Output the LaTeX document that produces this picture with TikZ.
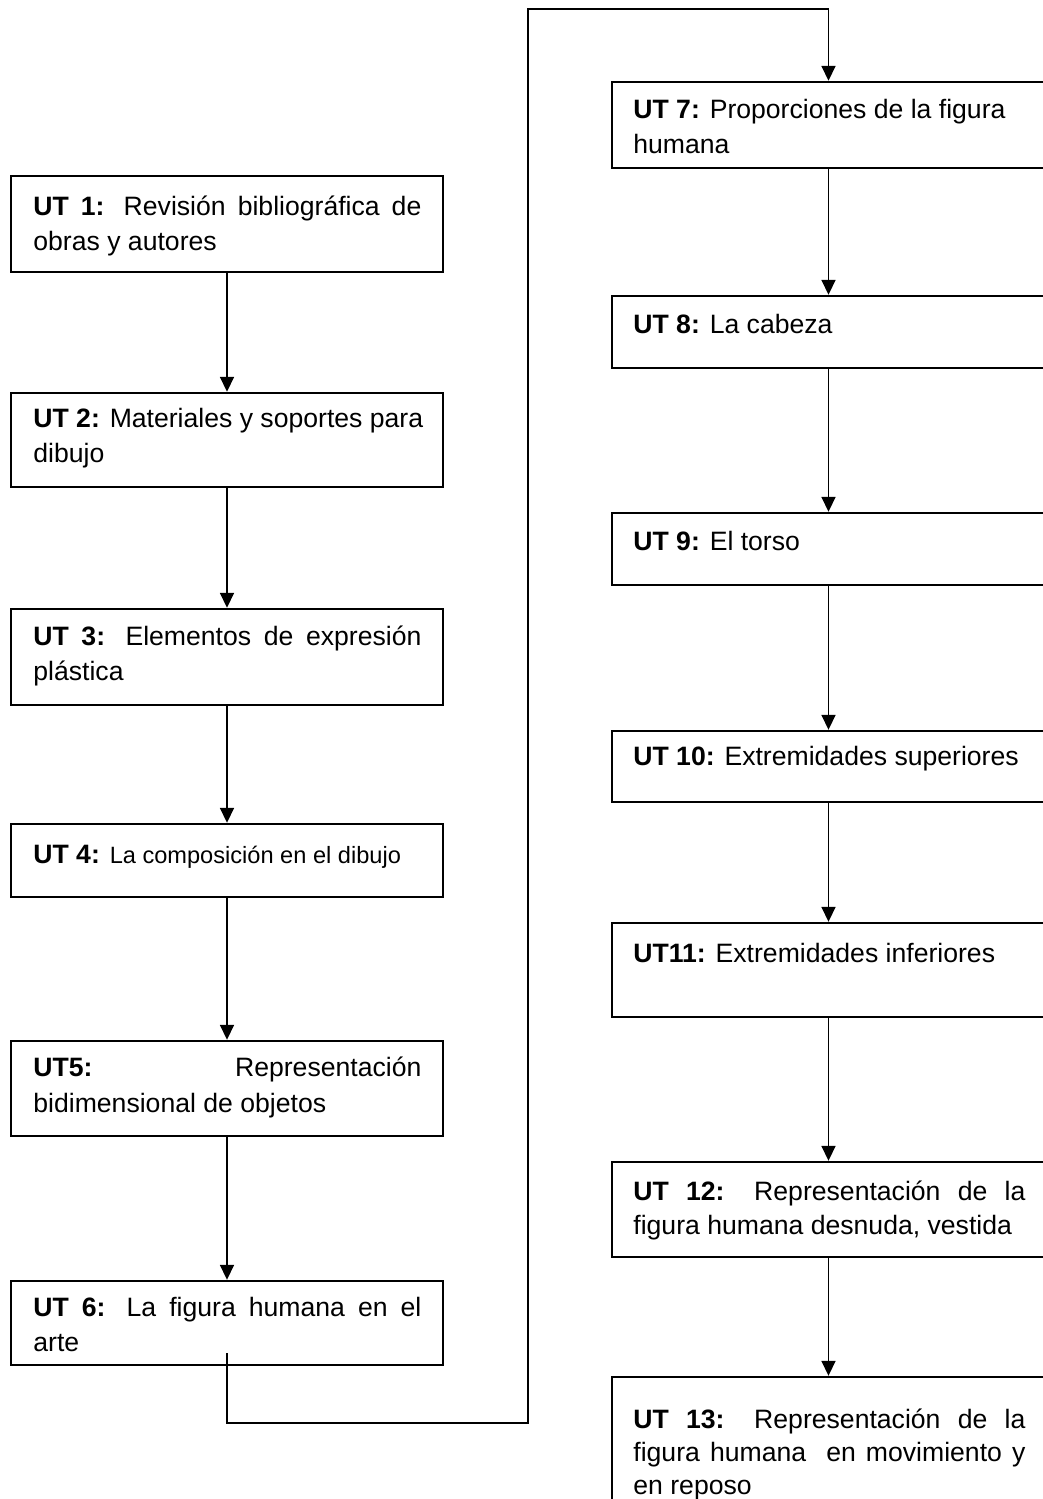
\documentclass[tikz,border=0pt]{standalone}
\usepackage{fontspec}
\setmainfont{Liberation Sans}
\usetikzlibrary{arrows.meta,fit}
\newcommand\jl[1]{\makebox[194pt][s]{#1}}
\newcommand\jr[1]{\makebox[196pt][s]{#1}}
\begin{document}
\begin{tikzpicture}[x=0.5pt,y=-0.5pt,
  unit/.style={draw, line width=1.2pt, inner sep=0pt, rectangle},
  txt/.style={anchor=base west, inner sep=0pt, font=\fontsize{13.3}{16.5}\selectfont},
  conn/.style={line width=0.85pt, -{Triangle[width=7pt,length=7.5pt]}}]
\useasboundingbox (0,0) rectangle (1043,1499);
\clip (0,0) rectangle (1043,1499);
% left column boxes
\node[unit, fit={(11,176) (443,272)}] (b1) {};
\node[unit, fit={(11,393) (443,487)}] (b2) {};
\node[unit, fit={(11,609) (443,705)}] (b3) {};
\node[unit, fit={(11,824) (443,897)}] (b4) {};
\node[unit, fit={(11,1041) (443,1136)}] (b5) {};
\node[unit, fit={(11,1281) (443,1365)}] (b6) {};
% right column boxes
\node[unit, fit={(612,82) (1045,168)}] (b7) {};
\node[unit, fit={(612,296) (1045,368)}] (b8) {};
\node[unit, fit={(612,513) (1045,585)}] (b9) {};
\node[unit, fit={(612,731) (1045,802)}] (b10) {};
\node[unit, fit={(612,923) (1045,1017)}] (b11) {};
\node[unit, fit={(612,1162) (1045,1257)}] (b12) {};
\node[unit, fit={(612,1377) (1045,1530)}] (b13) {};
% texts
\node[txt] (t1) at (33,215) {\parbox[t]{200pt}{\baselineskip=17.5pt\relax\jl{\textbf{UT 1:} Revisión bibliográfica de}\\obras y autores}};
\node[txt] (t2) at (33,427) {\parbox[t]{200pt}{\baselineskip=17.5pt\relax\textbf{UT 2:} Materiales y soportes para\\dibujo}};
\node[txt] (t3) at (33,645) {\parbox[t]{200pt}{\baselineskip=17.5pt\relax\jl{\textbf{UT 3:} Elementos de expresión}\\plástica}};
\node[txt] (t4) at (33,863) {\textbf{UT 4:} {\fontsize{11.8}{14}\selectfont La composición en el dibujo}};
\node[txt] (t5) at (33,1076) {\parbox[t]{200pt}{\baselineskip=18pt\relax\jl{\textbf{UT5:} Representación}\\bidimensional de objetos}};
\node[txt] (t6) at (33,1316) {\parbox[t]{200pt}{\baselineskip=17.5pt\relax\jl{\textbf{UT 6:} La figura humana en el}\\arte}};
\node[txt] (t7) at (633,118) {\parbox[t]{200pt}{\baselineskip=17.5pt\relax\textbf{UT 7:} Proporciones de la figura\\humana}};
\node[txt] (t8) at (633,333) {\textbf{UT 8:} La cabeza};
\node[txt] (t9) at (633,550) {\textbf{UT 9:} El torso};
\node[txt] (t10) at (633,765) {\textbf{UT 10:} Extremidades superiores};
\node[txt] (t11) at (633,962) {\textbf{UT11:} Extremidades inferiores};
\node[txt] (t12) at (633,1200) {\parbox[t]{200pt}{\baselineskip=17pt\relax\jr{\textbf{UT 12:} Representación de la}\\figura humana desnuda, vestida}};
\node[txt] (t13) at (633,1428) {\parbox[t]{200pt}{\baselineskip=16.5pt\relax\jr{\textbf{UT 13:} Representación de la}\\\jr{figura humana\ \ en movimiento y}\\en reposo}};
% connectors
\draw[conn] (b1.south) -- (b2.north);
\draw[conn] (b2.south) -- (b3.north);
\draw[conn] (b3.south) -- (b4.north);
\draw[conn] (b4.south) -- (b5.north);
\draw[conn] (b5.south) -- (b6.north);
\coordinate (s6) at (227,1353);
\coordinate (c1) at (227,1423);
\coordinate (c2) at (528,1423);
\coordinate (c3) at (528,9);
\coordinate (c4) at (828.5,9);
\draw[conn] (s6) -- (c1) -- (c2) -- (c3) -- (c4) -- (b7.north);
\draw[conn] (b7.south) -- (b8.north);
\draw[conn] (b8.south) -- (b9.north);
\draw[conn] (b9.south) -- (b10.north);
\draw[conn] (b10.south) -- (b11.north);
\draw[conn] (b11.south) -- (b12.north);
\draw[conn] (b12.south) -- (b13.north);
\end{tikzpicture}
\end{document}
